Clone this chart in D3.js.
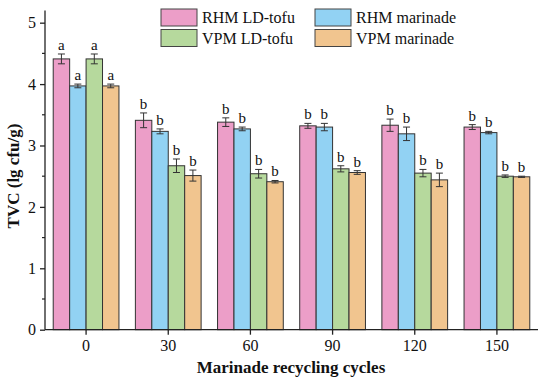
<!DOCTYPE html>
<html><head><meta charset="utf-8">
<script src="https://cdn.jsdelivr.net/npm/d3@7"></script>
<style>body{margin:0;background:#fff}svg{display:block}text{font-family:"Liberation Serif","Times New Roman",serif !important;fill:#111}</style>
</head><body><svg id="c" width="550" height="379"></svg>
<script>
const categories = ["0","30","60","90","120","150"];
const seriesNames = ["RHM LD-tofu","RHM marinade","VPM LD-tofu","VPM marinade"];
const rhmTofu = [4.41,3.41,3.38,3.32,3.33,3.30];
const rhmMarinade = [3.97,3.23,3.27,3.30,3.19,3.21];
const vpmTofu = [4.41,2.67,2.54,2.62,2.55,2.50];
const vpmMarinade = [3.97,2.51,2.41,2.56,2.44,2.49];
const rhmTofuErr = [0.08,0.12,0.07,0.04,0.10,0.04];
const rhmMarinadeErr = [0.03,0.04,0.03,0.06,0.11,0.02];
const vpmTofuErr = [0.08,0.11,0.07,0.05,0.06,0.02];
const vpmMarinadeErr = [0.03,0.09,0.02,0.03,0.11,0.01];
const letters = ["a","b","b","b","b","b"];
const yTicks = [0,1,2,3,4,5];
const colors = ["#EC9EC8","#92D2F3","#B6D99D","#F1C58F"];

const values = [rhmTofu,rhmMarinade,vpmTofu,vpmMarinade];
const errs = [rhmTofuErr,rhmMarinadeErr,vpmTofuErr,vpmMarinadeErr];
const FF = '"Liberation Serif","Times New Roman",serif';
const svg = d3.select("#c");
const x = d3.scaleBand().domain(categories).range([45,538]).padding(0);
const y = d3.scaleLinear().domain([0,5.2]).range([329.7,10.4]);

const g = svg.append("g");
values.forEach((vals,s)=>{
  vals.forEach((v,i)=>{
    const bw = x.bandwidth()*0.2;
    const x0 = x(categories[i]) + x.bandwidth()*0.1 + s*bw;
    g.append("rect").attr("x",x0).attr("y",y(v)).attr("width",bw).attr("height",y(0)-y(v))
      .attr("fill",colors[s]).attr("stroke","#333").attr("stroke-width",1);
    const e = errs[s][i], cx = x0+bw/2;
    const eb = g.append("g").attr("stroke","#333").attr("stroke-width",1);
    eb.append("line").attr("x1",cx).attr("x2",cx).attr("y1",y(v+e)).attr("y2",y(v-e));
    eb.append("line").attr("x1",cx-3.5).attr("x2",cx+3.5).attr("y1",y(v+e)).attr("y2",y(v+e));
    eb.append("line").attr("x1",cx-3.5).attr("x2",cx+3.5).attr("y1",y(v-e)).attr("y2",y(v-e));
    g.append("text").attr("x",cx).attr("y",y(v+e)-4).attr("text-anchor","middle")
      .attr("font-size",15).style("font-family",FF).text(letters[i]);
  });
});

const yAxis = d3.axisLeft(y).tickValues(yTicks).tickSize(5).tickPadding(4).tickFormat(d3.format("d"));
const ya = svg.append("g").attr("transform","translate(45,0)").call(yAxis).attr("font-family",FF);
ya.select(".domain").attr("d",`M0,${y(5.2)}V${y(0)}`).attr("stroke","#222").attr("stroke-width",1.3);
ya.selectAll(".tick line").attr("stroke","#222").attr("stroke-width",1.3);
ya.selectAll(".tick text").attr("font-size",16).style("font-family",FF).attr("fill","#111");
const minor = svg.append("g").attr("transform","translate(45,0)");
[0.5,1.5,2.5,3.5,4.5].forEach(t=>minor.append("line").attr("x1",-3).attr("x2",0).attr("y1",y(t)).attr("y2",y(t)).attr("stroke","#222").attr("stroke-width",1.2));

const xAxis = d3.axisBottom(x).tickSize(5).tickPadding(5);
const xa = svg.append("g").attr("transform",`translate(0,${y(0)})`).call(xAxis).attr("font-family",FF);
xa.select(".domain").attr("d",`M45,0H538`).attr("stroke","#222").attr("stroke-width",1.3);
xa.selectAll(".tick line").attr("stroke","#222").attr("stroke-width",1.3);
xa.selectAll(".tick text").attr("font-size",16).style("font-family",FF).attr("fill","#111");

svg.append("text").attr("x",291).attr("y",373).attr("text-anchor","middle").attr("font-size",17).attr("font-weight","bold").style("font-family",FF).text("Marinade recycling cycles");
svg.append("text").attr("transform","translate(19,176) rotate(-90)").attr("text-anchor","middle").attr("font-size",17).attr("font-weight","bold").style("font-family",FF).text("TVC (lg cfu/g)");

const leg = svg.append("g");
const pos = [[161,9],[315,9],[161,29.5],[315,29.5]];
seriesNames.forEach((n,s)=>{
  const [lx,ly] = pos[s];
  leg.append("rect").attr("x",lx).attr("y",ly).attr("width",36).attr("height",17).attr("fill",colors[s]).attr("stroke","#444").attr("stroke-width",1);
  leg.append("text").attr("x",lx+41).attr("y",ly+14).attr("font-size",16).style("font-family",FF).text(n);
});
</script></body></html>
